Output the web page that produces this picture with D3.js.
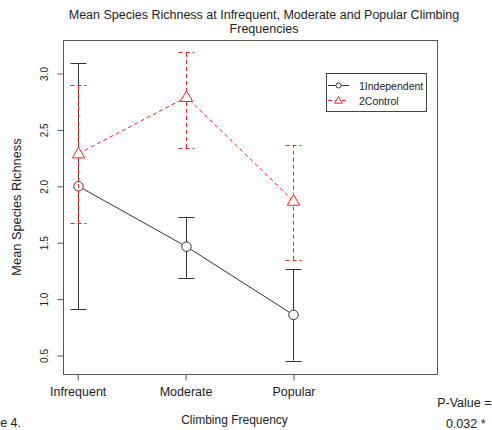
<!DOCTYPE html>
<html>
<head>
<meta charset="utf-8">
<script src="https://cdn.jsdelivr.net/npm/d3@7"></script>
<style>
  body { margin: 0; background: #fff; }
  text { font-family: "Liberation Sans", Arial, sans-serif; fill: #222; }
</style>
</head>
<body>
<script>
// data
const categories = ["Infrequent", "Moderate", "Popular"];
const seriesNames = ["1Independent", "2Control"];
const indepMean = [2.0, 1.465, 0.86];
const indepLow = [0.91, 1.19, 0.455];
const indepHigh = [3.09, 1.73, 1.265];
const ctrlMean = [2.29, 2.79, 1.87];
const ctrlLow = [1.675, 2.34, 1.35];
const ctrlHigh = [2.9, 3.195, 2.365];
const yTicks = [0.5, 1.0, 1.5, 2.0, 2.5, 3.0];

const W = 492, H = 430;
const svg = d3.select("body").append("svg").attr("width", W).attr("height", H);

// plot region
const pLeft = 63, pRight = 437, pTop = 40, pBottom = 374;
const x = d3.scaleLinear().domain([0.864, 4.33]).range([pLeft, pRight]);
const y = d3.scaleLinear().domain([0.336, 3.297]).range([pBottom, pTop]);
const px = (i) => Math.round(x(i + 1)) + 0.5;

// title
svg.append("text").attr("x", 264).attr("y", 19).attr("text-anchor", "middle")
  .style("font-size", "12.5px").text("Mean Species Richness at Infrequent, Moderate and Popular Climbing");
svg.append("text").attr("x", 264).attr("y", 33).attr("text-anchor", "middle")
  .style("font-size", "12.5px").text("Frequencies");

// box
svg.append("rect").attr("x", pLeft + 0.5).attr("y", pTop + 0.5)
  .attr("width", pRight - pLeft).attr("height", pBottom - pTop)
  .attr("fill", "none").attr("stroke", "#555");

// y axis
const yAxis = d3.axisLeft(y).tickValues(yTicks).tickFormat(d3.format(".1f")).tickSize(6).tickPadding(4);
const gy = svg.append("g").attr("transform", `translate(${pLeft + 0.5},0)`).call(yAxis);
gy.select(".domain").remove();
gy.selectAll(".tick line").attr("stroke", "#555");
gy.selectAll(".tick text")
  .attr("x", null).attr("dy", null)
  .attr("transform", "translate(-16,0) rotate(-90)")
  .attr("text-anchor", "middle")
  .style("font-size", "10px").style("font-family", "Liberation Sans, Arial, sans-serif").attr("fill", "#333");

// x axis
const xAxis = d3.axisBottom(x).tickValues([1, 2, 3]).tickFormat((d) => categories[d - 1]).tickSize(6).tickPadding(7);
const gx = svg.append("g").attr("transform", `translate(0,${pBottom + 0.5})`).call(xAxis);
gx.select(".domain").remove();
gx.selectAll(".tick line").attr("stroke", "#555");
gx.selectAll(".tick text").style("font-size", "12.5px")
  .style("font-family", "Liberation Sans, Arial, sans-serif").attr("fill", "#222");

// axis labels
svg.append("text").attr("x", 234.5).attr("y", 424).attr("text-anchor", "middle")
  .style("font-size", "12px").text("Climbing Frequency");
svg.append("text").attr("transform", `translate(20.5,${(pTop + pBottom) / 2}) rotate(-90)`)
  .attr("text-anchor", "middle").style("font-size", "12.8px").text("Mean Species Richness");

// surrounding document text
svg.append("text").attr("x", 21).attr("y", 427).attr("text-anchor", "end")
  .style("font-size", "12.5px").text("Figure 4.");
svg.append("text").attr("x", 491.5).attr("y", 407).attr("text-anchor", "end")
  .style("font-size", "12.5px").text("P-Value =");
svg.append("text").attr("x", 485.5).attr("y", 428).attr("text-anchor", "end")
  .style("font-size", "12.5px").text("0.032 *");

const idx = [0, 1, 2];
const line = d3.line().x((d) => px(d.i)).y((d) => y(d.v));

function drawSeries(mean, low, high, color, dash, shape) {
  const g = svg.append("g").attr("stroke", color).attr("fill", "none");
  // error bars
  idx.forEach((i) => {
    const cx = px(i);
    g.append("line").attr("x1", cx).attr("x2", cx).attr("y1", y(low[i])).attr("y2", y(high[i]))
      .attr("stroke-dasharray", dash);
    [low[i], high[i]].forEach((v) => {
      const yy = Math.round(y(v)) + 0.5;
      g.append("line").attr("x1", cx - 8).attr("x2", cx + 8).attr("y1", yy).attr("y2", yy)
        .attr("stroke-dasharray", dash);
    });
  });
  // connecting line
  g.append("path").datum(idx.map((i) => ({ i: i, v: mean[i] })))
    .attr("d", line).attr("stroke-dasharray", dash);
  // points
  idx.forEach((i) => {
    g.append("path").attr("transform", `translate(${px(i)},${y(mean[i])})`)
      .attr("d", shape(1)).attr("fill", "#fff");
  });
}

const circle = (s) => d3.symbol(d3.symbolCircle, 70 * s)();
const tri = (s) => "M0,-6.5L6.2,4.3L-6.2,4.3Z";

drawSeries(indepMean, indepLow, indepHigh, "#333", null, circle);
drawSeries(ctrlMean, ctrlLow, ctrlHigh, "#ff2020", "4,3", tri);

// legend
const lg = svg.append("g");
lg.append("rect").attr("x", 326.5).attr("y", 73.5).attr("width", 100).attr("height", 38)
  .attr("fill", "#fff").attr("stroke", "#444");
const legY = [85.5, 100.5];
const legColor = ["#333", "#ff2020"];
const legDash = [null, "4,3"];
seriesNames.forEach((name, i) => {
  lg.append("line").attr("x1", 328).attr("x2", 349).attr("y1", legY[i]).attr("y2", legY[i])
    .attr("stroke", legColor[i]).attr("stroke-dasharray", legDash[i]);
  if (i === 0) {
    lg.append("circle").attr("cx", 338.5).attr("cy", legY[i]).attr("r", 2.5)
      .attr("fill", "#fff").attr("stroke", legColor[i]);
  } else {
    lg.append("path").attr("transform", `translate(338.5,${legY[i]})`)
      .attr("d", "M0,-4L3.8,2.7L-3.8,2.7Z").attr("fill", "#fff").attr("stroke", legColor[i]);
  }
  lg.append("text").attr("x", 359).attr("y", legY[i] + 4).style("font-size", "10.5px").text(name);
});
</script>
</body>
</html>
